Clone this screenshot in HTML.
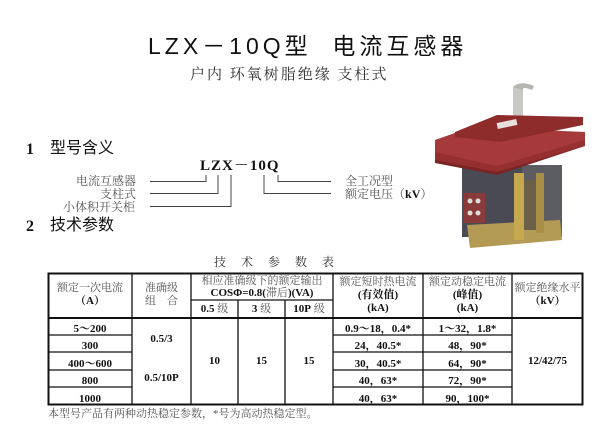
<!DOCTYPE html>
<html><head><meta charset="utf-8"><style>
body{margin:0;width:615px;height:431px;background:#fff;position:relative;overflow:hidden;font-family:"Liberation Serif","Noto Serif CJK SC",serif;color:#111}
.t{position:absolute;white-space:nowrap;line-height:1}
.c{position:absolute;text-align:center;line-height:1;white-space:nowrap}
.g{color:#555}
b{font-weight:bold}
</style></head><body>
<div class="t" style="left:148px;top:35px;font-size:23px;letter-spacing:4px;font-family:'Liberation Sans','Noto Sans CJK SC',sans-serif">LZX－10Q型&nbsp;&nbsp;电流互感器</div>
<div class="t" style="left:190px;top:68px;font-size:15px;letter-spacing:2px;color:#333;font-family:'Liberation Serif','Noto Serif CJK SC',serif">户内 环氧树脂绝缘 支柱式</div>

<div class="t" style="left:26px;top:142px;font-size:16px;font-weight:bold">1</div>
<div class="t" style="left:50px;top:141px;font-size:16px;font-family:'Liberation Sans','Noto Sans CJK SC',sans-serif">型号含义</div>
<div class="t" style="left:26px;top:219px;font-size:16px;font-weight:bold">2</div>
<div class="t" style="left:50px;top:218px;font-size:16px;font-family:'Liberation Sans','Noto Sans CJK SC',sans-serif">技术参数</div>
<div class="t" style="left:200px;top:159px;font-size:15px;font-weight:bold;letter-spacing:1px">LZX－10Q</div>
<div class="t g" style="left:76px;top:175px;font-size:12px">电流互感器</div>
<div class="t g" style="left:100px;top:188px;font-size:12px">支柱式</div>
<div class="t g" style="left:63px;top:201px;font-size:12px">小体积开关柜</div>
<div class="t g" style="left:345px;top:175px;font-size:12px">全工况型</div>
<div class="t g" style="left:345px;top:188px;font-size:12px">额定电压（<b style="color:#111">kV</b>）</div>
<svg style="position:absolute;left:0;top:0" width="615" height="431">
<g stroke="#444" stroke-width="1" fill="none">
<polyline points="150,181.5 206,181.5 206,175"/>
<polyline points="150,193.5 218,193.5 218,175"/>
<polyline points="150,206.5 231,206.5 231,175"/>
<polyline points="331,181.5 278,181.5 278,175"/>
<polyline points="331,193.5 264,193.5 264,175"/>
</g>
<!-- photo -->
<rect x="513" y="87" width="10" height="33" fill="#c9c9c4"/>
<path d="M513,87 Q520,80 534,86 L532,90 Q522,86 523,90Z" fill="#b5b5b0"/>
<rect x="462" y="165" width="100" height="72" fill="#4a4a55"/>
<rect x="522" y="165" width="40" height="72" fill="#5c5c63"/>
<polygon points="467,225 560,220 562,240 470,248" fill="#b39a55"/>
<rect x="514" y="173" width="10" height="67" fill="#c6a94e"/>
<rect x="536" y="173" width="8" height="60" fill="#a88f45"/>
<rect x="524" y="180" width="12" height="50" fill="#6a6148"/>
<rect x="463" y="193" width="22" height="30" fill="#8a3a38"/>
<circle cx="470" cy="201" r="2.5" fill="#ddd"/><circle cx="478" cy="201" r="2.5" fill="#ddd"/>
<circle cx="470" cy="213" r="2.5" fill="#ddd"/><circle cx="478" cy="213" r="2.5" fill="#ddd"/>
<polygon points="435,157 585,138 585,146 497,175 435,163" fill="#7a2424"/>
<polygon points="435,148 472,134 585,138 585,146 497,172 435,160" fill="#952f30"/>
<polygon points="435,140 472,127 585,132 585,140 497,166 435,152" fill="#a63a3a"/>
<polygon points="455,132 497,115 583,117 583,125 500,142 455,137" fill="#8e2c2c"/>
<rect x="497" y="121" width="20" height="6" fill="#e8e0dc" transform="rotate(-12 507 124)"/>
<!-- table -->
<g stroke="#111" fill="none">
<rect x="48.5" y="273.5" width="534" height="131" stroke-width="2"/>
<g stroke-width="1.3">
<line x1="132" y1="273" x2="132" y2="405"/>
<line x1="191" y1="273" x2="191" y2="405"/>
<line x1="238" y1="300" x2="238" y2="405"/>
<line x1="285" y1="300" x2="285" y2="405"/>
<line x1="333" y1="273" x2="333" y2="405"/>
<line x1="423" y1="273" x2="423" y2="405"/>
<line x1="512" y1="273" x2="512" y2="405"/>
<line x1="191" y1="300" x2="333" y2="300"/>
</g>
<line x1="48" y1="318" x2="583" y2="318" stroke-width="2"/>
<g stroke-width="1.3">
<line x1="48" y1="335" x2="132" y2="335"/><line x1="333" y1="335" x2="512" y2="335"/>
<line x1="48" y1="352" x2="132" y2="352"/><line x1="333" y1="352" x2="512" y2="352"/>
<line x1="48" y1="370" x2="132" y2="370"/><line x1="333" y1="370" x2="512" y2="370"/>
<line x1="48" y1="387" x2="132" y2="387"/><line x1="333" y1="387" x2="512" y2="387"/>
</g></g>
</svg>
<div class="t" style="left:214px;top:256px;font-size:12px;letter-spacing:15px;color:#333">技术参数表</div>
<div class="c g" style="left:48px;width:84px;top:282px;font-size:11px;line-height:13px">额定一次电流<br><b style="color:#111">（A）</b></div>
<div class="c g" style="left:132px;width:59px;top:282px;font-size:11px;line-height:13px">准确级<br>组　合</div>
<div class="c g" style="left:191px;width:142px;top:275px;font-size:11px;line-height:12px">相应准确级下的额定输出<br><b style="color:#111">COSΦ=0.8(</b>滞后<b style="color:#111">)(VA)</b></div>
<div class="c" style="left:191px;width:47px;top:304px;font-size:11px"><b>0.5</b> <span class="g">级</span></div>
<div class="c" style="left:238px;width:47px;top:304px;font-size:11px"><b>3</b> <span class="g">级</span></div>
<div class="c" style="left:285px;width:48px;top:304px;font-size:11px"><b>10P</b> <span class="g">级</span></div>
<div class="c" style="left:333px;width:90px;top:276px;font-size:11px;line-height:13px"><span class="g">额定短时热电流</span><br><b>(有效值)<br>(kA)</b></div>
<div class="c" style="left:423px;width:89px;top:276px;font-size:11px;line-height:13px"><span class="g">额定动稳定电流</span><br><b>(峰值)<br>(kA)</b></div>
<div class="c g" style="left:512px;width:71px;top:282px;font-size:11px;line-height:13px">额定绝缘水平<br><b style="color:#111">（kV）</b></div>
<div class="c" style="left:48px;width:84px;top:321px;font-size:11px;font-weight:bold;line-height:17.4px">5～200<br>300<br>400～600<br>800<br>1000</div>
<div class="c" style="left:132px;width:59px;top:334px;font-size:11px;font-weight:bold">0.5/3</div>
<div class="c" style="left:132px;width:59px;top:373px;font-size:11px;font-weight:bold">0.5/10P</div>
<div class="c" style="left:191px;width:47px;top:356px;font-size:11px;font-weight:bold">10</div>
<div class="c" style="left:238px;width:47px;top:356px;font-size:11px;font-weight:bold">15</div>
<div class="c" style="left:285px;width:48px;top:356px;font-size:11px;font-weight:bold">15</div>
<div class="c" style="left:333px;width:90px;top:321px;font-size:11px;font-weight:bold;line-height:17.4px">0.9～18，0.4*<br>24，40.5*<br>30，40.5*<br>40，63*<br>40，63*</div>
<div class="c" style="left:423px;width:89px;top:321px;font-size:11px;font-weight:bold;line-height:17.4px">1～32，1.8*<br>48，90*<br>64，90*<br>72，90*<br>90，100*</div>
<div class="c" style="left:512px;width:71px;top:356px;font-size:11px;font-weight:bold">12/42/75</div>
<div class="t g" style="left:48px;top:409px;font-size:11px">本型号产品有两种动热稳定参数，*号为高动热稳定型。</div>
</body></html>
